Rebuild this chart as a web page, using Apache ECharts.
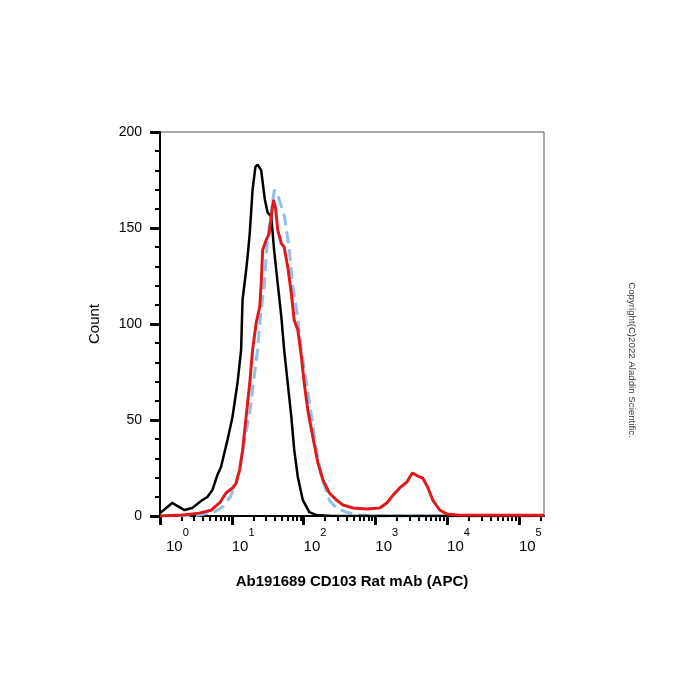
<!DOCTYPE html>
<html>
<head>
<meta charset="utf-8">
<script src="https://cdn.jsdelivr.net/npm/echarts@6/dist/echarts.min.js"></script>
<style>
html,body{margin:0;padding:0;background:#fff;}
#main{width:700px;height:700px;}
</style>
</head>
<body>
<div id="main"></div>
<script>
// x = decades (log10 of APC intensity), y = count
var blackLogX=[0.0,0.17,0.34,0.45,0.59,0.66,0.73,0.80,0.85,0.94,1.01,1.08,1.13,1.15,1.20,1.22,1.25,1.29,1.33,1.36,1.41,1.46,1.50,1.55,1.59,1.64,1.69,1.73,1.78,1.83,1.87,1.92,1.99,2.08,2.18,2.40,5.35];
var blackCount=[1.5,6.8,3.1,4.2,8.3,9.9,13.5,21.4,25.5,39.6,51.6,69.3,86.5,112.5,128,135,147,170,182,183,180,165,158,156,138.5,121,104,86.5,69,51.6,34.4,20.3,8.3,2,0.5,0,0];

var redLogX=[0.0,0.31,0.55,0.71,0.83,0.92,1.01,1.06,1.11,1.15,1.20,1.25,1.29,1.34,1.39,1.41,1.43,1.48,1.52,1.55,1.58,1.61,1.64,1.69,1.73,1.78,1.83,1.87,1.92,1.97,2.01,2.06,2.13,2.20,2.27,2.36,2.46,2.55,2.69,2.88,3.06,3.16,3.25,3.34,3.44,3.48,3.52,3.59,3.66,3.73,3.80,3.90,4.00,4.14,5.35];
var redCount=[0,0.5,1.5,3,6.8,12,14.6,17,24,34,51.6,69,86.5,100.5,109,121,138.5,143.8,147,156,164.6,160.4,149,142,140,129.7,116,102,97,83,69,55,41,27.6,18.8,12,8.3,5.7,4.2,3.6,4.2,6.8,11,14.6,17.7,20.3,22.4,20.8,19.8,15,8.3,3,1,0.5,0.4];

var blueLogX=[0.0,0.5,0.75,0.88,0.98,1.05,1.12,1.18,1.245,1.30,1.357,1.40,1.455,1.483,1.54,1.594,1.65,1.70,1.734,1.77,1.804,1.846,1.916,1.972,2.042,2.112,2.182,2.252,2.364,2.462,2.6,2.75,3.0,5.35];
var blueCount=[0,0.3,2,5,10,16,27,40,52,69,86,104,121,138,156,170,166,160,156,147,138,121,104,86,69,52,34,20,8,4,2,0.5,0,0];

var decades=[0,1,2,3,4,5];
var minorMultipliers=[2,3,4,5,6,7,8,9];
var xMax=5.35;

function pairs(xs,ys){
	var out=[];
	for(var i=0;i<xs.length;i++){ out.push([xs[i],ys[i]]); }
	return out;
}

var minorTicks=[];
decades.forEach(function(d){
	minorMultipliers.forEach(function(k){
		var v=d+Math.log10(k);
		if(v<xMax){ minorTicks.push(v); }
	});
});

var font='Arial, "Liberation Sans", sans-serif';
var chart=echarts.init(document.getElementById('main'));
var option={
	animation:false,
	backgroundColor:'#fff',
	grid:{
		left:160,right:156,top:132,bottom:184,
		show:true,borderColor:'#555',borderWidth:1,backgroundColor:'transparent'
	},
	xAxis:[{
		type:'value',min:0,max:xMax,
		name:'Ab191689 CD103 Rat mAb (APC)',
		nameLocation:'middle',nameGap:58,
		nameTextStyle:{fontFamily:font,fontSize:15,fontWeight:'bold',color:'#000',verticalAlign:'top'},
		axisLine:{show:true,onZero:false,lineStyle:{color:'#000',width:2}},
		axisTick:{show:true,inside:false,length:9,lineStyle:{color:'#000',width:3},customValues:decades},
		splitLine:{show:false},
		axisLabel:{
			show:true,margin:11,align:'left',
			customValues:decades,
			formatter:function(v){
				return (v===0?'{b0|10}':'{b|10}')+'{s|'+Math.round(v)+'}';
			},
			rich:{
				b:{fontFamily:font,fontSize:15,color:'#000',lineHeight:27,verticalAlign:'bottom'},
				b0:{fontFamily:font,fontSize:15,color:'#000',lineHeight:27,verticalAlign:'bottom',padding:[0,0,0,6]},
				s:{fontFamily:font,fontSize:11,color:'#000',lineHeight:14,verticalAlign:'top'}
			}
		}
	},{
		type:'value',min:0,max:xMax,position:'bottom',
		axisLine:{show:false},
		axisTick:{show:true,inside:false,length:5,lineStyle:{color:'#000',width:2},customValues:minorTicks},
		axisLabel:{show:false},
		splitLine:{show:false}
	}],
	yAxis:{
		type:'value',min:0,max:200,interval:50,
		name:'Count',nameLocation:'middle',nameGap:58,
		nameTextStyle:{fontFamily:font,fontSize:15,color:'#000'},
		axisLine:{show:true,lineStyle:{color:'#000',width:2}},
		axisTick:{show:true,inside:false,length:10,lineStyle:{color:'#000',width:3}},
		minorTick:{show:true,splitNumber:5,length:5,lineStyle:{color:'#000',width:2}},
		splitLine:{show:false},
		axisLabel:{fontFamily:font,fontSize:14,color:'#000',margin:18}
	},
	graphic:[{
		type:'text',
		x:632,y:360,rotation:-Math.PI/2,
		style:{text:'Copyright(C)2022 Aladdin Scientific.',fontFamily:font,fontSize:9.7,fill:'#333',align:'center',verticalAlign:'middle'}
	}],
	series:[{
		name:'blue',type:'line',xAxisIndex:0,showSymbol:false,
		data:pairs(blueLogX,blueCount),
		lineStyle:{color:'#8ec0ea',width:3,type:[12,6]},z:2
	},{
		name:'black',type:'line',xAxisIndex:0,showSymbol:false,
		data:pairs(blackLogX,blackCount),
		lineStyle:{color:'#000',width:2.5},z:3
	},{
		name:'red',type:'line',xAxisIndex:0,showSymbol:false,
		data:pairs(redLogX,redCount),
		lineStyle:{color:'#e0191c',width:3},z:4
	}]
};
chart.setOption(option);
window.addEventListener('resize',function(){
	chart.resize();
});
</script>
</body>
</html>
